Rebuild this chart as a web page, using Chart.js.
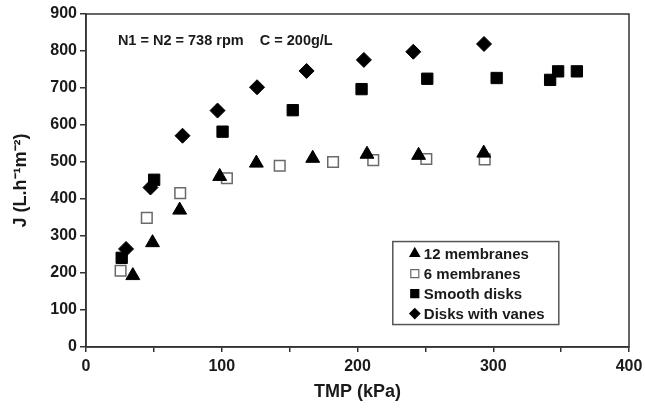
<!DOCTYPE html>
<html>
<head>
<meta charset="utf-8">
<script src="https://cdn.jsdelivr.net/npm/chart.js@4.4.1/dist/chart.umd.min.js"></script>
<style>
  html, body { margin: 0; padding: 0; background: #fff; }
  #wrap { width: 645px; height: 412px; }
</style>
</head>
<body>
<div id="wrap"><canvas id="c" width="645" height="412"></canvas></div>
<script>
// ---- data ----
const seriesLabels = ['12 membranes', '6 membranes', 'Smooth disks', 'Disks with vanes'];

const tmp12 = [34.5, 49, 69, 98.5, 125.5, 167, 207, 245, 293];
const j12   = [193, 282, 370, 461, 497, 510, 521, 518, 524];

const tmp6  = [25.5, 44.8, 69.4, 103.8, 142.7, 182, 211.6, 250.7, 293.7];
const j6    = [206, 349, 416, 456, 490, 500, 505, 508, 507];

const tmpSmooth = [26.3, 50.2, 100.6, 152.3, 203, 251.4, 302.5, 341.9, 347.8, 361.6];
const jSmooth   = [241, 452, 582, 640, 697, 725, 727, 722, 745, 745];

const tmpVanes = [29.5, 47.5, 71.1, 96.9, 126, 162.5, 204.7, 241.1, 293.2];
const jVanes   = [265, 431, 571, 639, 702, 746, 776, 798, 819];

const xTicksMajor = [0, 100, 200, 300, 400];
const annotationText = 'N1 = N2 = 738 rpm    C = 200g/L';
const xTitle = 'TMP (kPa)';
const yTitle = 'J (L.h\u207B\u00B9m\u207B\u00B2)';

function pts(xs, ys) { return xs.map((x, i) => ({ x: x, y: ys[i] })); }

const FONT = "'Liberation Sans', Arial, sans-serif";
const INK = '#1a1a1a';

const frameAndExtras = {
  id: 'frameAndExtras',
  afterDraw(chart) {
    const ctx = chart.ctx;
    const a = chart.chartArea;
    const xs = chart.scales.x, ys = chart.scales.y;
    ctx.save();
    // frame
    ctx.strokeStyle = '#333';
    ctx.lineWidth = 1.5;
    ctx.strokeRect(a.left, a.top, a.right - a.left, a.bottom - a.top);
    // annotation
    ctx.fillStyle = INK;
    ctx.font = "bold 14.5px " + FONT;
    ctx.textBaseline = 'middle';
    ctx.textAlign = 'left';
    ctx.fillText(annotationText, xs.getPixelForValue(23.5), ys.getPixelForValue(827));
    // legend box
    const bx = xs.getPixelForValue(226), by = ys.getPixelForValue(285);
    const bw = 166, bh = 83;
    ctx.fillStyle = '#fff';
    ctx.fillRect(bx, by, bw, bh);
    ctx.strokeStyle = '#555';
    ctx.lineWidth = 1.5;
    ctx.strokeRect(bx, by, bw, bh);
    ctx.font = "bold 15px " + FONT;
    chart.data.datasets.forEach((ds, i) => {
      const cy = by + 12 + i * 20;
      const mx = bx + 22;
      ctx.save();
      ctx.beginPath();
      if (ds.pointStyle === 'triangle') {
        const r = 5.5;
        ctx.moveTo(mx, cy - r);
        ctx.lineTo(mx + r * 0.866, cy + r * 0.5);
        ctx.lineTo(mx - r * 0.866, cy + r * 0.5);
        ctx.closePath();
      } else if (ds.pointStyle === 'rectRot') {
        const r = 5;
        ctx.moveTo(mx, cy - r); ctx.lineTo(mx + r, cy); ctx.lineTo(mx, cy + r); ctx.lineTo(mx - r, cy);
        ctx.closePath();
      } else {
        const s = 4;
        ctx.rect(mx - s, cy - s, 2 * s, 2 * s);
      }
      ctx.fillStyle = ds.backgroundColor;
      ctx.fill();
      ctx.lineWidth = 1.2;
      ctx.strokeStyle = ds.borderColor;
      ctx.stroke();
      ctx.restore();
      ctx.fillStyle = INK;
      ctx.fillText(ds.label, bx + 31, cy + 1);
    });
    ctx.restore();
  }
};

new Chart(document.getElementById('c'), {
  type: 'scatter',
  data: {
    datasets: [
      { label: seriesLabels[0], data: pts(tmp12, j12), pointStyle: 'triangle', pointRadius: 8,
        backgroundColor: '#000', borderColor: '#000', borderWidth: 1 },
      { label: seriesLabels[1], data: pts(tmp6, j6), pointStyle: 'rect', pointRadius: 7.5,
        backgroundColor: '#fff', borderColor: '#6a6a6a', borderWidth: 1.5 },
      { label: seriesLabels[2], data: pts(tmpSmooth, jSmooth), pointStyle: 'rect', pointRadius: 8,
        backgroundColor: '#000', borderColor: '#000', borderWidth: 1 },
      { label: seriesLabels[3], data: pts(tmpVanes, jVanes), pointStyle: 'rectRot', pointRadius: 7.5,
        backgroundColor: '#000', borderColor: '#000', borderWidth: 1 }
    ]
  },
  options: {
    responsive: false,
    animation: false,
    devicePixelRatio: 1,
    layout: { padding: { left: 0, right: 16, top: 14, bottom: 0 } },
    plugins: {
      legend: { display: false },
      tooltip: { enabled: false }
    },
    scales: {
      x: {
        type: 'linear', min: 0, max: 400,
        afterFit(s) { s.height = 65; s.paddingRight = 0; s.paddingLeft = 0; },
        border: { display: true, color: '#333', width: 1.5 },
        grid: { display: true, drawOnChartArea: false, drawTicks: true, tickLength: 5, color: '#333', lineWidth: 1.5 },
        ticks: {
          stepSize: 50, padding: 5, color: INK, font: { family: FONT, size: 16, weight: 'bold' },
          maxRotation: 0, autoSkip: false,
          callback: (v) => xTicksMajor.includes(v) ? String(v) : ''
        },
        title: { display: true, text: xTitle, color: INK, padding: { top: 0, bottom: 9 },
          font: { family: FONT, size: 18, weight: 'bold' } }
      },
      y: {
        type: 'linear', min: 0, max: 900,
        afterFit(s) { s.width = 86; },
        border: { display: true, color: '#333', width: 1.5 },
        grid: { display: true, drawOnChartArea: false, drawTicks: true, tickLength: 6, color: '#333', lineWidth: 1.5 },
        ticks: { stepSize: 100, padding: 3, color: INK, font: { family: FONT, size: 16, weight: 'bold' } },
        title: { display: true, text: yTitle, color: INK, padding: { top: 10, bottom: 0 },
          font: { family: FONT, size: 18, weight: 'bold' } }
      }
    }
  },
  plugins: [frameAndExtras]
});
</script>
</body>
</html>
